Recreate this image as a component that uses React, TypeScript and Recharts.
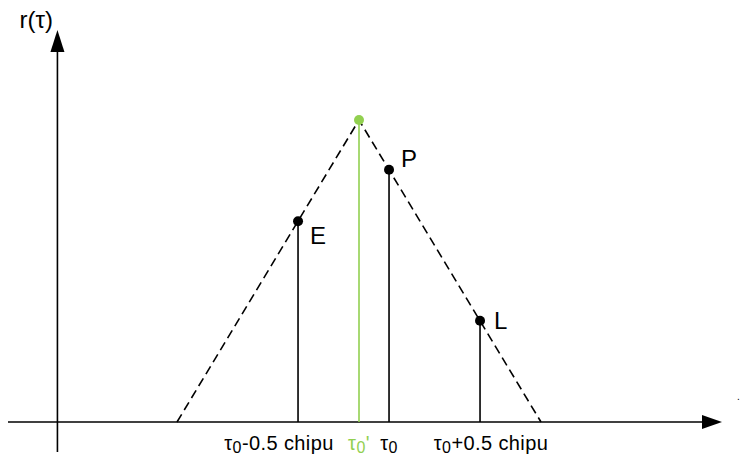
import { ComposedChart, Line, Scatter, XAxis, YAxis, ReferenceLine } from 'recharts';

// Ideal correlation triangle, in chips relative to tau0'
const triangleTau = [-1, 0, 1];
const triangleR = [0, 1, 0];

// Early / Prompt / Late correlators
const corrNames = ['E', 'P', 'L'];
const corrTau = [-0.335, 0.165, 0.665];
const corrR = [0.665, 0.835, 0.335];

// True peak
const peakTau = 0;
const peakR = 1;

// Bottom labels: [main, subscript, suffix]
const tickTau = [-0.335, 0, 0.165, 0.665];
const tickParts: [string, string, string][] = [
  ['τ', '0', '-0.5 chipu'],
  ['τ', '0', "'"],
  ['τ', '0', ''],
  ['τ', '0', '+0.5 chipu'],
];
const tickShift = [-19, 0, 0, 11];

const X_DOMAIN: [number, number] = [-1.9286, 1.9945];
const Y_DOMAIN: [number, number] = [-0.0993, 1.298];
const Y_AXIS_TAU = -1.657;

const GREEN = '#92D050';
const FONT = '"Liberation Sans", Arial, sans-serif';

const triangleData = triangleTau.map((t, i) => ({ tau: t, r: triangleR[i] }));
const corrData = corrTau.map((t, i) => ({ tau: t, r: corrR[i], name: corrNames[i] }));
const peakData = [{ tau: peakTau, r: peakR }];

// label offsets from each correlator dot
const corrLabelDx: Record<string, number> = { E: 12, P: 12, L: 14 };
const corrLabelDy: Record<string, number> = { E: 23, P: -3, L: 8 };

function XArrow(props: any) {
  const { x1, y1, x2 } = props;
  return (
    <g>
      <line x1={x1} y1={y1} x2={x2 - 16} y2={y1} stroke="#000" strokeWidth={1.6} />
      <polygon points={`${x2},${y1} ${x2 - 20},${y1 - 7} ${x2 - 20},${y1 + 7}`} fill="#000" />
      <text x={737} y={400} fontSize={10} fontFamily={FONT} fill="#000">.</text>
    </g>
  );
}

function YArrow(props: any) {
  const { x1, y1, y2 } = props;
  const top = Math.min(y1, y2);
  const bottom = Math.max(y1, y2);
  return (
    <g>
      <line x1={x1} y1={bottom} x2={x1} y2={top + 16} stroke="#000" strokeWidth={1.6} />
      <polygon points={`${x1},${top} ${x1 - 7},${top + 22} ${x1 + 7},${top + 22}`} fill="#000" />
      <text x={x1 - 38} y={top - 2} fontSize={24} fontFamily={FONT} fill="#000">r(τ)</text>
    </g>
  );
}

function CorrDot(props: any) {
  const { cx, cy, payload } = props;
  return (
    <g>
      <circle cx={cx} cy={cy} r={5} fill="#000" />
      <text
        x={cx + corrLabelDx[payload.name]}
        y={cy + corrLabelDy[payload.name]}
        fontSize={24}
        fontFamily={FONT}
        fill="#000"
      >
        {payload.name}
      </text>
    </g>
  );
}

function PeakDot(props: any) {
  const { cx, cy } = props;
  return <circle cx={cx} cy={cy} r={5} fill={GREEN} />;
}

function TauTick(props: any) {
  const { x, index } = props;
  const [main, sub, suffix] = tickParts[index];
  const color = index === 1 ? GREEN : '#000';
  return (
    <text
      x={x + tickShift[index]}
      y={450}
      textAnchor="middle"
      fontSize={20}
      fontFamily={FONT}
      fill={color}
      letterSpacing={0.4}
    >
      <tspan>{main}</tspan>
      <tspan fontSize={16} dy={3}>{sub}</tspan>
      <tspan dy={-3}>{suffix}</tspan>
    </text>
  );
}

export default function App() {
  return (
    <div style={{ position: 'absolute', left: 0, top: 0, width: 740, height: 460, background: '#fff' }}>
      <ComposedChart width={740} height={460} margin={{ top: 30, right: 18, bottom: 0, left: 8 }}>
        <XAxis
          type="number"
          dataKey="tau"
          domain={X_DOMAIN}
          allowDataOverflow
          ticks={tickTau}
          interval={0}
          tick={<TauTick />}
          axisLine={false}
          tickLine={false}
          height={8}
        />
        <YAxis type="number" dataKey="r" domain={Y_DOMAIN} allowDataOverflow hide width={0} />

        {/* axes with arrow heads */}
        <ReferenceLine
          segment={[{ x: X_DOMAIN[0], y: 0 }, { x: X_DOMAIN[1], y: 0 }]}
          shape={<XArrow />}
          ifOverflow="visible"
        />
        <ReferenceLine
          segment={[{ x: Y_AXIS_TAU, y: Y_DOMAIN[0] }, { x: Y_AXIS_TAU, y: Y_DOMAIN[1] }]}
          shape={<YArrow />}
          ifOverflow="visible"
        />

        {/* stems */}
        <ReferenceLine
          segment={[{ x: peakTau, y: 0 }, { x: peakTau, y: peakR }]}
          stroke={GREEN}
          strokeWidth={1.6}
          ifOverflow="visible"
        />
        {corrTau.map((t, i) => (
          <ReferenceLine
            key={corrNames[i]}
            segment={[{ x: t, y: 0 }, { x: t, y: corrR[i] }]}
            stroke="#000"
            strokeWidth={1.6}
            ifOverflow="visible"
          />
        ))}

        <Line
          data={triangleData}
          dataKey="r"
          stroke="#000"
          strokeWidth={1.6}
          strokeDasharray="9 5"
          dot={false}
          activeDot={false}
          type="linear"
          isAnimationActive={false}
        />
        <Scatter data={peakData} dataKey="r" shape={<PeakDot />} isAnimationActive={false} />
        <Scatter data={corrData} dataKey="r" shape={<CorrDot />} isAnimationActive={false} />
      </ComposedChart>
    </div>
  );
}
